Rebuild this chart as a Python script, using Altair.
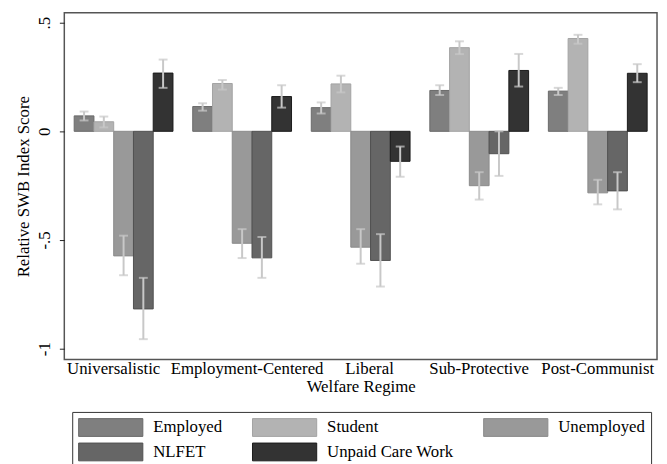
import altair as alt
import pandas as pd

regimes = ["Universalistic", "Employment-Centered", "Liberal", "Sub-Protective", "Post-Communist"]
statuses = ["Employed", "Student", "Unemployed", "NLFET", "Unpaid Care Work"]

employed = [0.071, 0.114, 0.109, 0.188, 0.185]
employed_lo = [0.050, 0.095, 0.082, 0.167, 0.167]
employed_hi = [0.091, 0.129, 0.133, 0.212, 0.200]

student = [0.044, 0.220, 0.218, 0.385, 0.427]
student_lo = [0.018, 0.192, 0.179, 0.355, 0.403]
student_hi = [0.068, 0.236, 0.256, 0.414, 0.444]

unemployed = [-0.573, -0.515, -0.533, -0.250, -0.283]
unemployed_lo = [-0.662, -0.583, -0.609, -0.314, -0.336]
unemployed_hi = [-0.480, -0.450, -0.450, -0.188, -0.223]

nlfet = [-0.817, -0.582, -0.594, -0.103, -0.274]
nlfet_lo = [-0.956, -0.674, -0.714, -0.205, -0.359]
nlfet_hi = [-0.674, -0.486, -0.473, 0.000, -0.188]

unpaid = [0.268, 0.160, -0.138, 0.280, 0.267]
unpaid_lo = [0.200, 0.109, -0.209, 0.206, 0.226]
unpaid_hi = [0.330, 0.212, -0.070, 0.356, 0.309]

fill_colors = ["#7f7f7f", "#b3b3b3", "#999999", "#666666", "#333333"]
stroke_colors = ["#6a6a6a", "#a3a3a3", "#8a8a8a", "#505050", "#1a1a1a"]

series = {
    "Employed": (employed, employed_lo, employed_hi),
    "Student": (student, student_lo, student_hi),
    "Unemployed": (unemployed, unemployed_lo, unemployed_hi),
    "NLFET": (nlfet, nlfet_lo, nlfet_hi),
    "Unpaid Care Work": (unpaid, unpaid_lo, unpaid_hi),
}

rows = []
for s in statuses:
    v, lo, hi = series[s]
    for i, r in enumerate(regimes):
        rows.append({"regime": r, "status": s, "value": v[i], "lo": lo[i], "hi": hi[i]})
df = pd.DataFrame(rows)

FONT = "Liberation Serif"

x_enc = alt.X(
    "regime:N",
    sort=regimes,
    scale=alt.Scale(paddingInner=1 / 6, paddingOuter=1 / 12),
    axis=alt.Axis(
        title="Welfare Regime",
        labelAngle=0,
        labelOverlap=False,
        labelLimit=400,
        tickSize=0,
        domain=False,
        labelPadding=1,
        titlePadding=2,
        labelOffset={"expr": "datum.value == 'Universalistic' ? -10 : datum.value == 'Employment-Centered' ? 5 : datum.value == 'Liberal' ? 9 : 0"},
    ),
)
xo_enc = alt.XOffset("status:N", sort=statuses, scale=alt.Scale(paddingInner=0, paddingOuter=0))

y_scale = alt.Scale(domain=[-1.05, 0.545], nice=False, zero=False)

bars = alt.Chart(df).mark_bar(strokeWidth=1).encode(
    x=x_enc,
    xOffset=xo_enc,
    y=alt.Y(
        "value:Q",
        scale=y_scale,
        axis=alt.Axis(
            title="Relative SWB Index Score",
            values=[0.5, 0, -0.5, -1],
            labelExpr="datum.value == 0.5 ? '.5' : datum.value == -0.5 ? '-.5' : datum.value == 0 ? '0' : '-1'",
            labelAngle=270,
            labelAlign="center",
            labelBaseline="bottom",
            grid=False,
            domain=False,
            tickSize=5,
            tickColor="#222",
            labelPadding=6,
            titlePadding=3,
        ),
    ),
    y2=alt.datum(0),
    fill=alt.Fill(
        "status:N",
        sort=statuses,
        scale=alt.Scale(domain=statuses, range=fill_colors),
        legend=alt.Legend(
            title=None,
            orient="none",
            legendX=8,
            legendY=404,
            direction="horizontal",
            columns=3,
            symbolType="M-1,-1L6.222,-1L6.222,1L-1,1Z",
            symbolSize=324,
            symbolStrokeColor="#555",
            symbolStrokeWidth=1,
            labelOffset=57,
            columnPadding=28,
            rowPadding=2,
            padding=6,
            strokeColor="#333",
            labelFont=FONT,
            labelFontSize=17,
            labelColor="#000",
            labelLimit=400,
        ),
    ),
    stroke=alt.Stroke("status:N", sort=statuses, scale=alt.Scale(domain=statuses, range=stroke_colors), legend=None),
)

err = alt.Chart(df).mark_rule(color="#c8c8c8", strokeWidth=2).encode(
    x=alt.X("regime:N", sort=regimes),
    xOffset=alt.XOffset("status:N", sort=statuses),
    y=alt.Y("lo:Q", scale=y_scale),
    y2="hi:Q",
)
cap_lo = alt.Chart(df).mark_tick(color="#c8c8c8", size=9, thickness=2).encode(
    x=alt.X("regime:N", sort=regimes),
    xOffset=alt.XOffset("status:N", sort=statuses),
    y=alt.Y("lo:Q", scale=y_scale),
)
cap_hi = alt.Chart(df).mark_tick(color="#c8c8c8", size=9, thickness=2).encode(
    x=alt.X("regime:N", sort=regimes),
    xOffset=alt.XOffset("status:N", sort=statuses),
    y=alt.Y("hi:Q", scale=y_scale),
)

chart = (
    alt.layer(bars, err, cap_lo, cap_hi)
    .properties(
        width=600,
        height=351,
        autosize=alt.AutoSizeParams(type="none"),
        padding={"left": 57, "top": 2, "right": 2, "bottom": 120},
        background="white",
    )
    .configure_view(stroke="#555", strokeWidth=1.5)
    .configure_axis(
        labelFont=FONT,
        titleFont=FONT,
        labelFontSize=17,
        titleFontSize=17,
        labelColor="#000",
        titleColor="#000",
        titleFontWeight="normal",
    )
)

chart.save("out.html", embed_options={"renderer": "svg", "actions": False})
